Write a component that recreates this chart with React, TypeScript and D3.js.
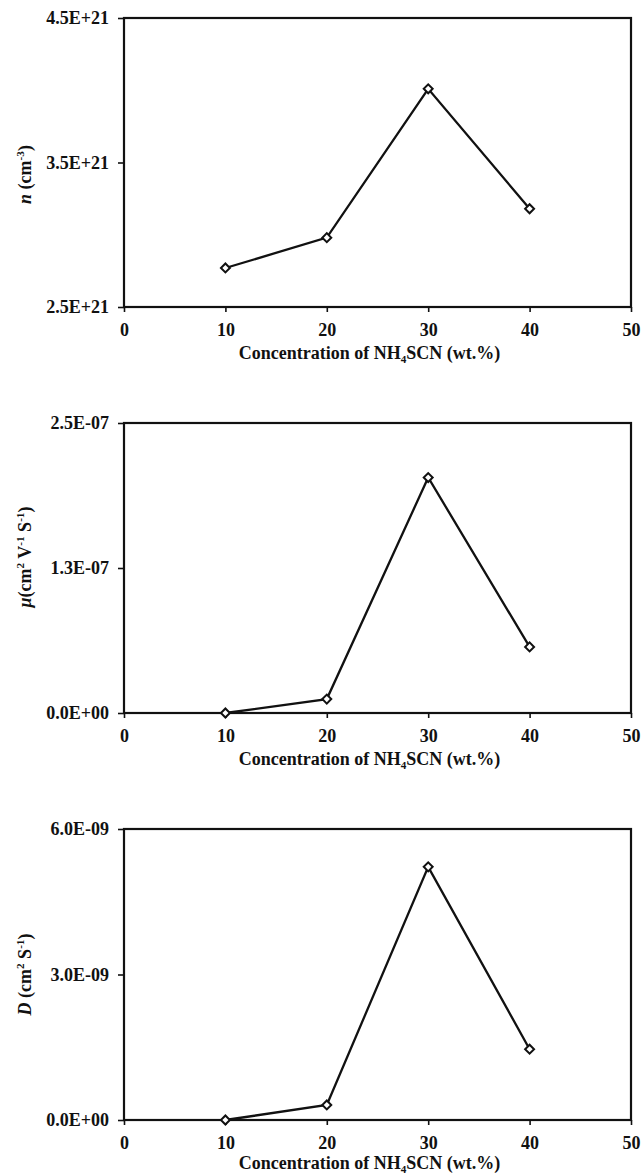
import * as d3 from "d3";
import React, { useEffect, useRef } from "react";

// NH4SCN concentration (wt.%)
const concentration = [10, 20, 30, 40];

// values
const carrierDensity = [2.77e21, 2.98e21, 4.01e21, 3.18e21];
const mobility = [0, 1.2e-8, 2.03e-7, 5.7e-8];
const diffusion = [0, 3.1e-10, 5.22e-9, 1.46e-9];

const xTicks = [0, 10, 20, 30, 40, 50];

const nTicks = [2.5e21, 3.5e21, 4.5e21];
const nTickLabels = ["2.5E+21", "3.5E+21", "4.5E+21"];
const muTicks = [0, 1.25e-7, 2.5e-7];
const muTickLabels = ["0.0E+00", "1.3E-07", "2.5E-07"];
const dTicks = [0, 3e-9, 6e-9];
const dTickLabels = ["0.0E+00", "3.0E-09", "6.0E-09"];

// pieces of text: shift -1 = superscript, 1 = subscript
type Part = { t: string; shift?: number; it?: boolean };

const nTitle: Part[] = [
  { t: "n", it: true },
  { t: " (cm" },
  { t: "-3", shift: -1 },
  { t: ")" },
];
const muTitle: Part[] = [
  { t: "μ", it: true },
  { t: "(cm" },
  { t: "2", shift: -1 },
  { t: " V" },
  { t: "-1", shift: -1 },
  { t: " S" },
  { t: "-1", shift: -1 },
  { t: ")" },
];
const dTitle: Part[] = [
  { t: "D", it: true },
  { t: " (cm" },
  { t: "2", shift: -1 },
  { t: " S" },
  { t: "-1", shift: -1 },
  { t: ")" },
];
const xTitle: Part[] = [
  { t: "Concentration of NH" },
  { t: "4", shift: 1 },
  { t: "SCN (wt.%)" },
];

const panels = [
  { values: carrierDensity, ticks: nTicks, labels: nTickLabels, title: nTitle },
  { values: mobility, ticks: muTicks, labels: muTickLabels, title: muTitle },
  { values: diffusion, ticks: dTicks, labels: dTickLabels, title: dTitle },
];

const W = 641;
const H = 1176;
const left = 124;
const right = 631;
const tops = [18, 423, 829];
const bottoms = [307, 713, 1120];
const titleOffset = [12, -11, 0]; // y-title isn't quite centred in the original
const xTitleGap = [52, 52, 49];
const ink = "#111";
const font = "'Liberation Serif', 'Times New Roman', serif";
const fontSize = 18;

function writeParts(textEl: any, parts: Part[], size: number) {
  let prev = 0;
  const off = (s: number) => (s === -1 ? -size * 0.4 : s === 1 ? size * 0.2 : 0);
  parts.forEach((p) => {
    const shift = p.shift || 0;
    const fs = shift !== 0 ? size * 0.62 : size;
    textEl
      .append("tspan")
      .attr("dy", off(shift) - off(prev))
      .attr("font-size", fs)
      .attr("font-style", p.it ? "italic" : "normal")
      .text(p.t);
    prev = shift;
  });
}

export default function App() {
  const svgRef = useRef(null);

  useEffect(() => {
    const svgEl = d3.select(svgRef.current);
    svgEl.selectAll("*").remove();

    const xScale = d3.scaleLinear().domain([0, 50]).range([left, right]);

    panels.forEach((panel, pi) => {
      const top = tops[pi];
      const bottom = bottoms[pi];
      const yScale = d3
        .scaleLinear()
        .domain([panel.ticks[0], panel.ticks[panel.ticks.length - 1]])
        .range([bottom, top]);

      const g = svgEl.append("g");

      // frame
      g.append("rect")
        .attr("x", left)
        .attr("y", top)
        .attr("width", right - left)
        .attr("height", bottom - top)
        .attr("fill", "none")
        .attr("stroke", ink)
        .attr("stroke-width", 2.2);

      // x axis
      const xAxis = g
        .append("g")
        .attr("transform", "translate(0," + bottom + ")")
        .call(d3.axisBottom(xScale).tickValues(xTicks).tickSize(5).tickPadding(11).tickFormat(d3.format("d")));
      xAxis.select(".domain").remove();
      xAxis.selectAll("line").attr("stroke", ink).attr("stroke-width", 1.6);
      xAxis
        .selectAll("text")
        .attr("font-family", font)
        .attr("font-weight", "bold")
        .attr("font-size", fontSize)
        .attr("fill", ink);

      // y axis
      const yAxis = g
        .append("g")
        .attr("transform", "translate(" + left + ",0)")
        .call(
          d3
            .axisLeft(yScale)
            .tickValues(panel.ticks)
            .tickSize(6)
            .tickPadding(9)
            .tickFormat((d, i) => panel.labels[i])
        );
      yAxis.select(".domain").remove();
      yAxis.selectAll("line").attr("stroke", ink).attr("stroke-width", 1.6);
      yAxis
        .selectAll("text")
        .attr("font-family", font)
        .attr("font-weight", "bold")
        .attr("font-size", fontSize)
        .attr("fill", ink);

      // x title
      const xt = g
        .append("text")
        .attr("x", (left + right) / 2 - 8)
        .attr("y", bottom + xTitleGap[pi])
        .attr("text-anchor", "middle")
        .attr("font-family", font)
        .attr("font-weight", "bold")
        .attr("fill", ink);
      writeParts(xt, xTitle, fontSize);

      // y title
      const cy = (top + bottom) / 2 + titleOffset[pi];
      const yt = g
        .append("text")
        .attr("transform", "translate(31," + cy + ") rotate(-90)")
        .attr("text-anchor", "middle")
        .attr("font-family", font)
        .attr("font-weight", "bold")
        .attr("fill", ink);
      writeParts(yt, panel.title, fontSize);

      // series
      const pts = concentration.map((c, i) => [c, panel.values[i]] as [number, number]);
      g.append("path")
        .datum(pts)
        .attr("fill", "none")
        .attr("stroke", ink)
        .attr("stroke-width", 2.3)
        .attr(
          "d",
          d3
            .line()
            .x((d) => xScale(d[0]))
            .y((d) => yScale(d[1]))
        );

      const diamond = d3.symbol().type(d3.symbolSquare).size(40);
      g.append("g")
        .selectAll("path")
        .data(pts)
        .join("path")
        .attr("d", diamond())
        .attr("transform", (d) => "translate(" + xScale(d[0]) + "," + yScale(d[1]) + ") rotate(45)")
        .attr("fill", "white")
        .attr("stroke", ink)
        .attr("stroke-width", 2);
    });
  });

  return (
    <svg
      ref={svgRef}
      width={W}
      height={H}
      style={{ position: "absolute", left: 0, top: 0, background: "white" }}
    ></svg>
  );
}
